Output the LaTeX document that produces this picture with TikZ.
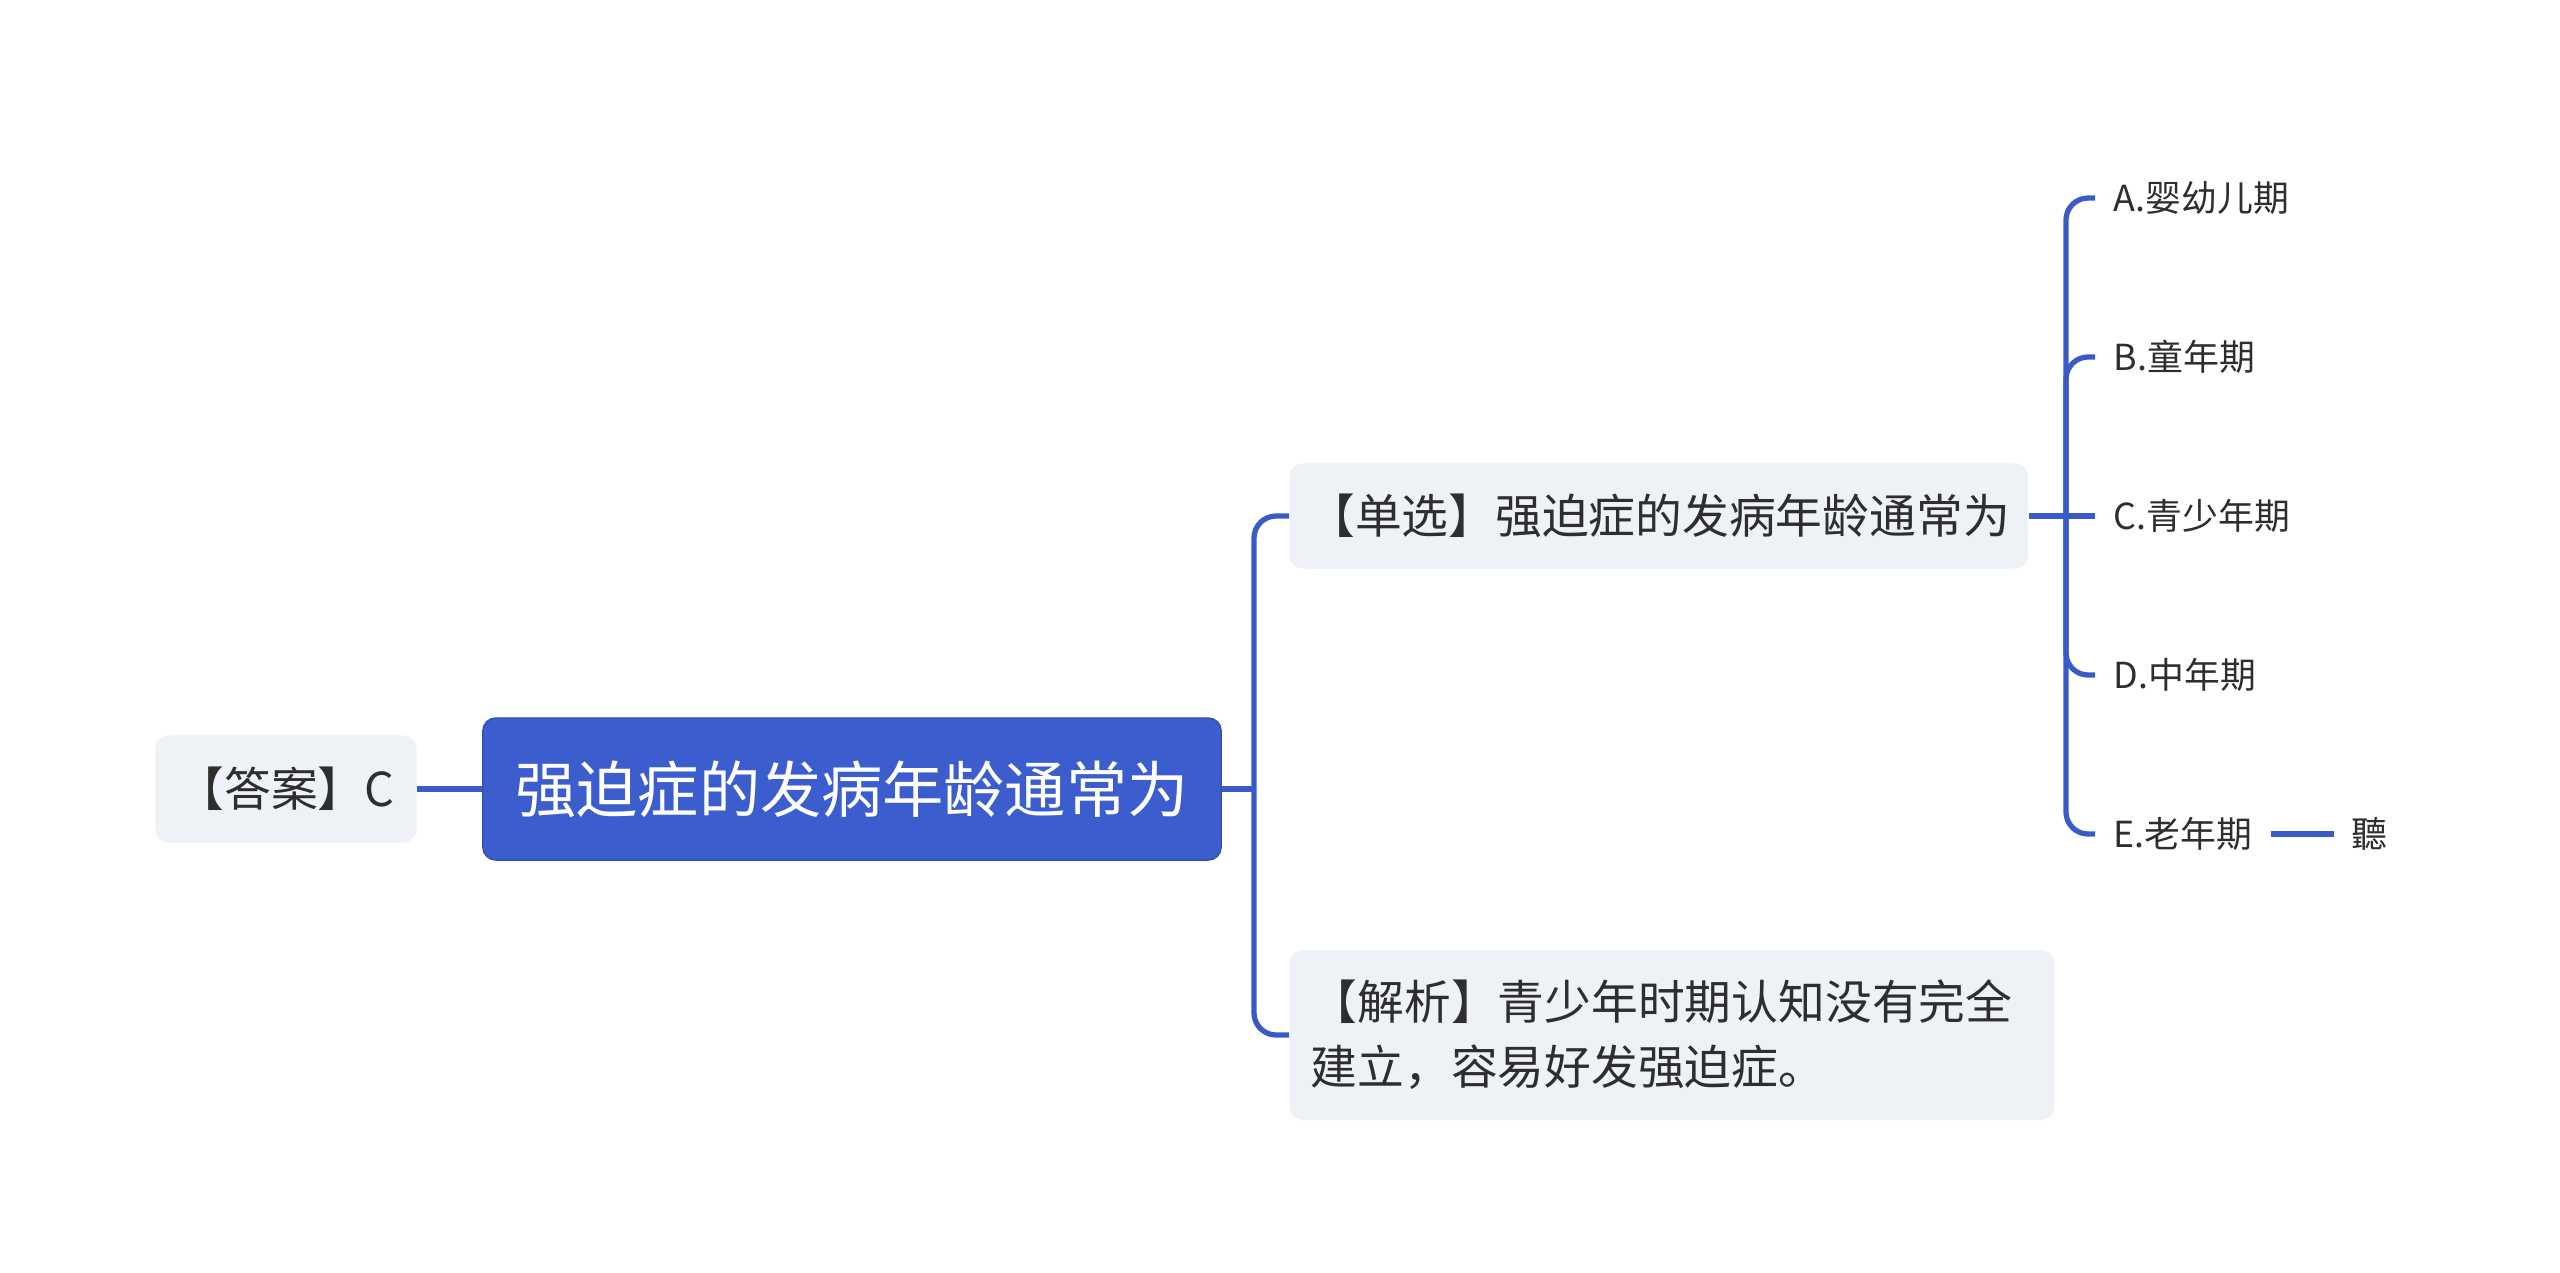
\documentclass[tikz,border=0pt]{standalone}
\usepackage{fontspec}
\setmainfont{Noto Sans CJK SC}
\usepackage{xcolor}
\definecolor{lineblue}{HTML}{3A5BC7}
\definecolor{rootblue}{HTML}{3C5DCD}
\definecolor{boxgray}{HTML}{EEF1F5}
\definecolor{txtgray}{HTML}{2E2E2E}

\begin{document}
\begin{tikzpicture}[x=0.01cm, y=-0.01cm,
  every node/.style={text=txtgray, inner sep=0pt},
  box/.style={fill=boxgray, rounded corners=0.13cm, font=\fontsize{13.3}{18.5}\selectfont},
  rootbox/.style={fill=rootblue, draw=rootblue!85!black, rounded corners=0.13cm, text=white,
    minimum width=7.38cm, minimum height=1.42cm, font=\fontsize{17.4}{20}\selectfont},
  item/.style={anchor=west, inner xsep=0.18cm, minimum height=0.5cm, font=\fontsize{10.2}{12}\selectfont},
  link/.style={draw=lineblue, line width=1.5pt, rounded corners=0.22cm}]
\useasboundingbox (0,0) rectangle (2560,1273);
% Center and answer
\node[rootbox] (root) at (852,789) {强迫症的发病年龄通常为};
\node[box, minimum width=2.61cm, minimum height=1.07cm] (ans) at (286,789) {【答案】C};
% Right side boxes
\node[box, minimum width=7.38cm, minimum height=1.05cm] (single) at (1659,516) {【单选】强迫症的发病年龄通常为};
\node[box, minimum height=1.70cm, inner xsep=0.21cm, text width=7.22cm, align=left] (expl) at (1672,1035)
  {【解析】青少年时期认知没有完全\\建立，容易好发强迫症。};
% Options
\foreach \n/\y/\t in {A/198/A.婴幼儿期, B/357/B.童年期, C/516/C.青少年期, D/675/D.中年期, E/834/E.老年期}
    \node[item] (opt\n) at (2095,\y) {\t};
\node[item, anchor=center, inner xsep=0.16cm] (ting) at (2369,834) {聽};
% Connectors
\coordinate (j1) at (1254,789);
\coordinate (j2) at (2066,516);
\draw[link] (ans) -- (root);
\draw[link] (root.east) -- (j1);
\draw[link] (single.west) -| (j1) |- (expl.west);
\draw[link] (single.east) -- (optC.west);
\draw[link] (optA.west) -| (j2) |- (optE.west);
\draw[link] (j2) |- (optB.west);
\draw[link] (j2) |- (optD.west);
\draw[link] (optE) -- (ting);
\end{tikzpicture}
\end{document}
